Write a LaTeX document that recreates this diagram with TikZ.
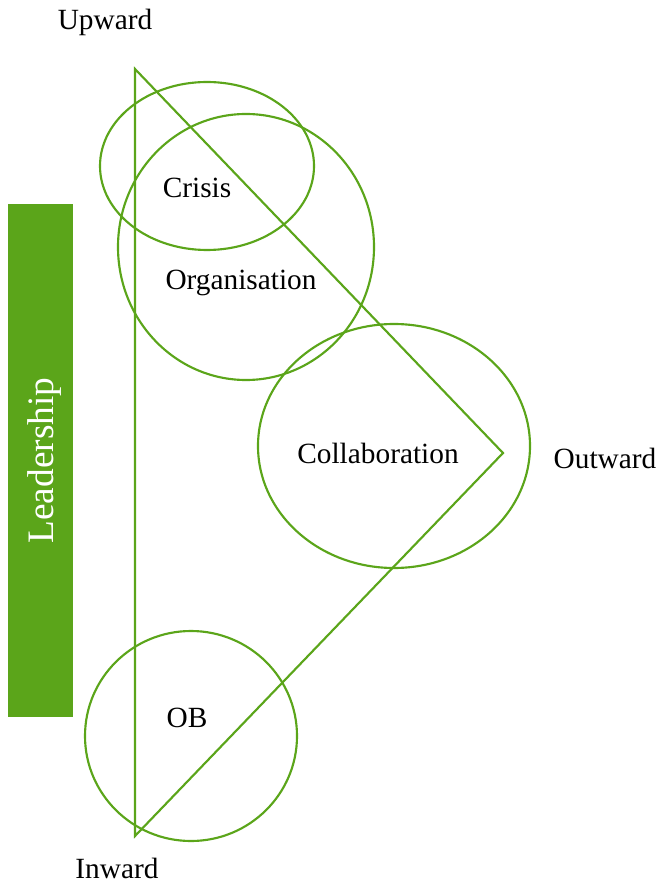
\documentclass[tikz,border=0pt]{standalone}
\usepackage{fontspec}
\setmainfont{Liberation Serif}
\definecolor{lgreen}{HTML}{5BA51A}
\begin{document}
\begin{tikzpicture}[x=0.75pt,y=-0.75pt,
  ring/.style={draw=lgreen,line width=1.6pt},
  lbl/.style={font=\fontsize{22}{26}\selectfont,inner sep=0pt}]
\useasboundingbox (0,0) rectangle (661,887);
% triangle
\coordinate (up) at (135,69);
\coordinate (out) at (503,453);
\coordinate (in) at (135,836);
\draw[ring,line join=miter] (up) -- (out) -- (in) -- cycle;
% circles
\draw[ring] (207,166) ellipse [x radius=107, y radius=84];
\draw[ring] (246,247) ellipse [x radius=128, y radius=133];
\draw[ring] (394,446) ellipse [x radius=136, y radius=122];
\draw[ring] (191,736) ellipse [x radius=106, y radius=105];
% leadership bar
\node[fill=lgreen,minimum width=65*0.75pt,minimum height=513*0.75pt,inner sep=0pt] (bar) at (40.5,460.5) {};
\node[rotate=90,text=white,font=\fontsize{28}{32}\selectfont] (lead) at ([xshift=3pt]bar.center) {Leadership};
% labels
\node[lbl] (crisis) at (197,188) {Crisis};
\node[lbl] (org) at (241,283) {Organisation};
\node[lbl] (collab) at (378,453) {Collaboration};
\node[lbl] (ob) at (187,718) {OB};
\node[lbl] (upward) at (105,22) {Upward};
\node[lbl] (outward) at (605,458) {Outward};
\node[lbl] (inward) at (117,868) {Inward};
\end{tikzpicture}
\end{document}
